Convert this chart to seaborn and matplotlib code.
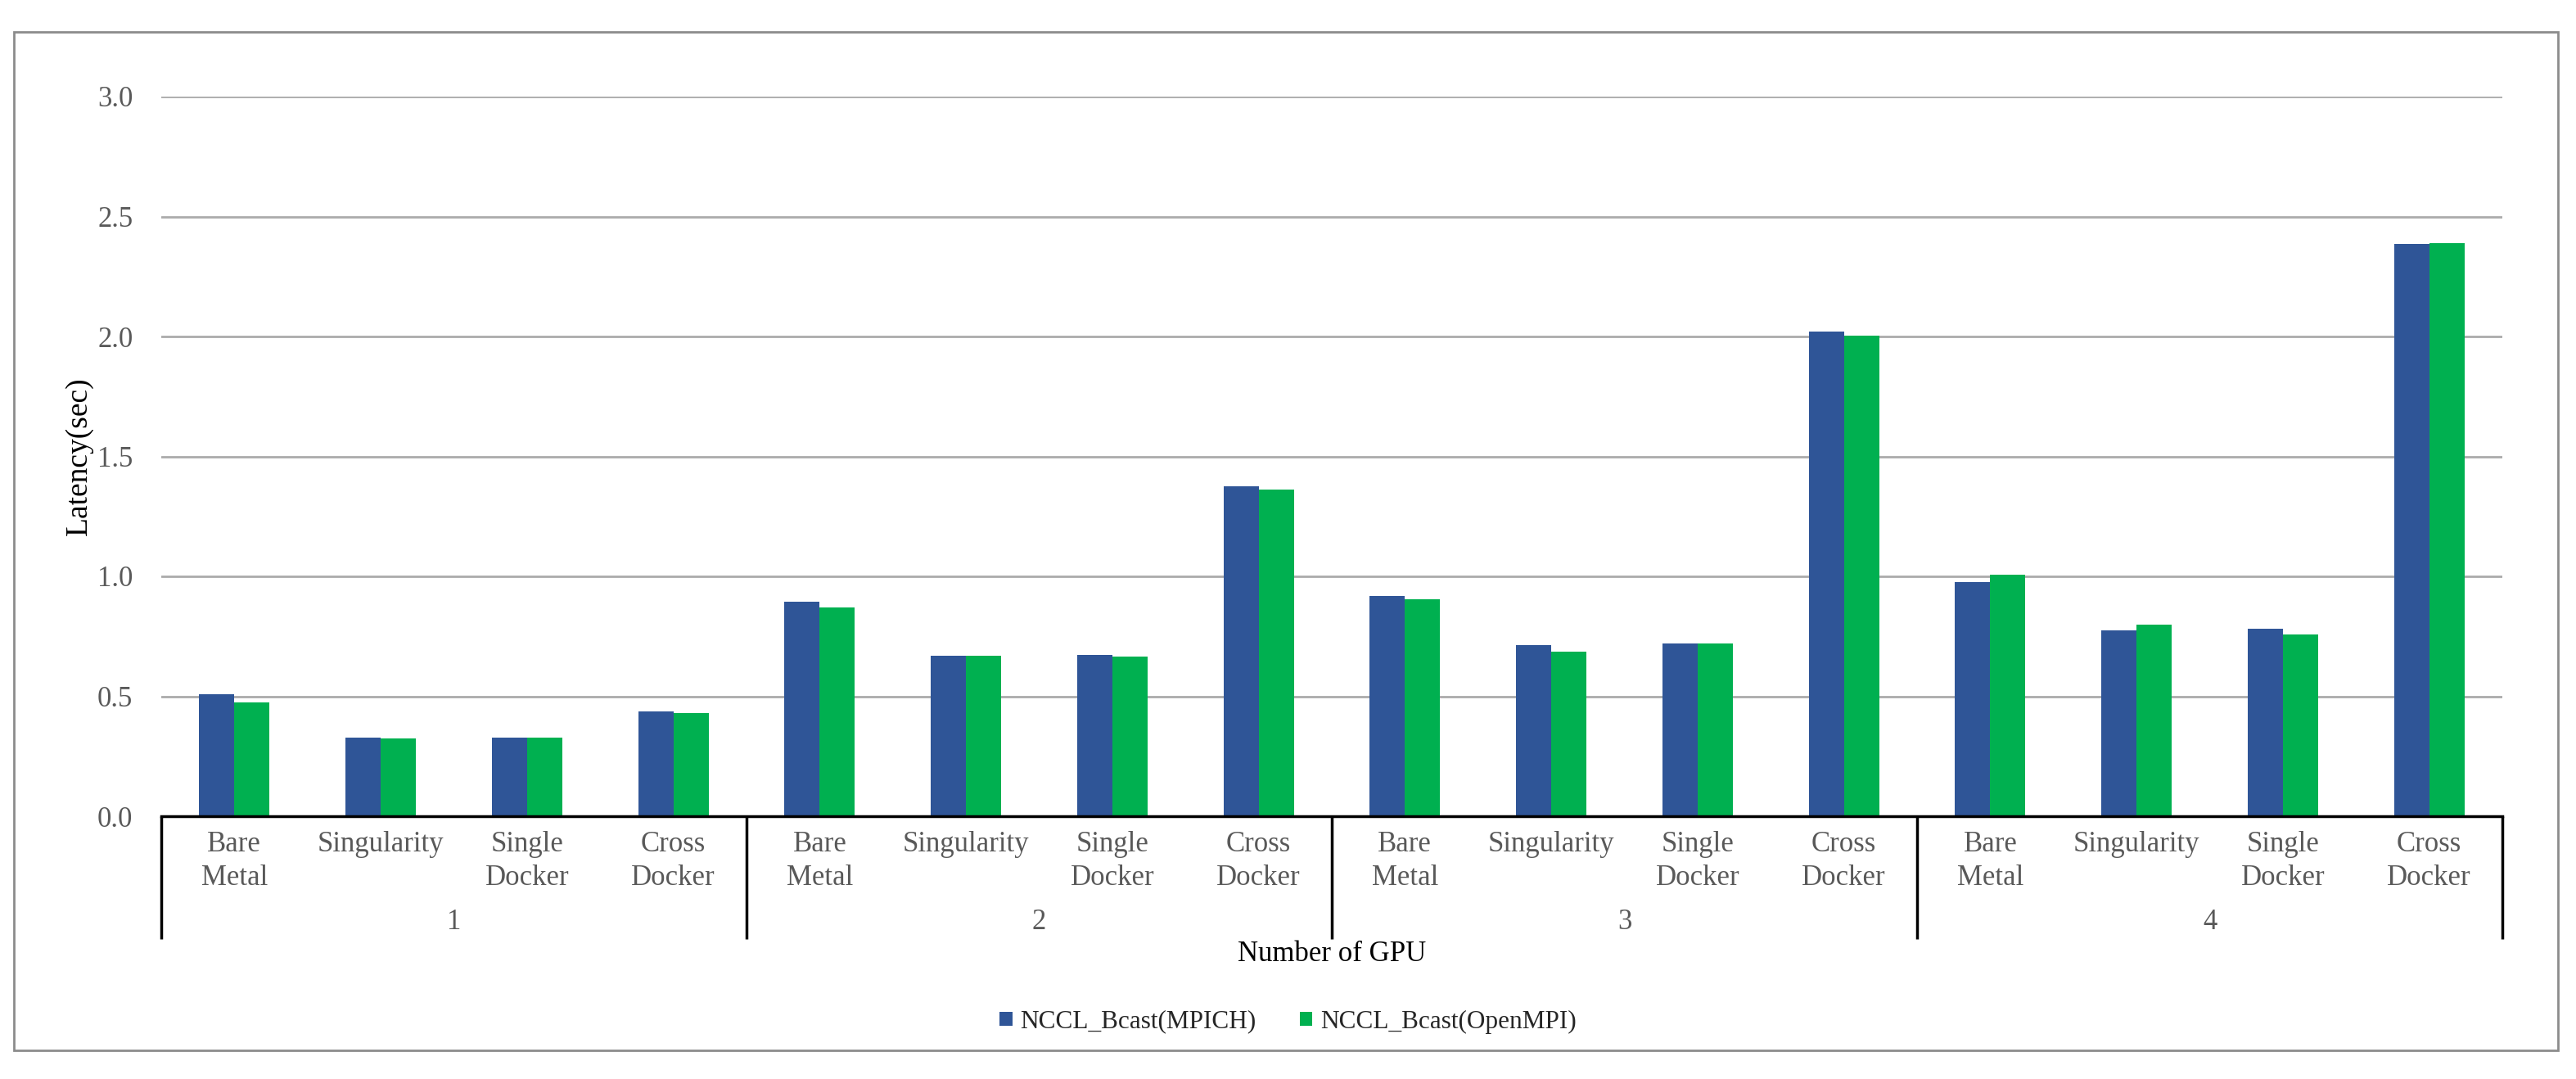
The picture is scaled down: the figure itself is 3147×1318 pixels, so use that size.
import matplotlib
matplotlib.use("Agg")
import matplotlib.pyplot as plt
from matplotlib.patches import Patch, Rectangle
import matplotlib.transforms as mtransforms
import seaborn as sns
import pandas as pd

# ---------------- data ----------------
gpu_groups = ["1", "2", "3", "4"]
platforms = ["Bare Metal", "Singularity", "Single Docker", "Cross Docker"]
platform_labels = ["Bare\nMetal", "Singularity", "Single\nDocker", "Cross\nDocker"]
series_names = ["NCCL_Bcast(MPICH)", "NCCL_Bcast(OpenMPI)"]
mpich = [0.51, 0.329, 0.329, 0.438,
         0.893, 0.668, 0.674, 1.375,
         0.918, 0.712, 0.719, 2.02,
         0.975, 0.774, 0.78, 2.385]
openmpi = [0.475, 0.323, 0.326, 0.43,
           0.869, 0.668, 0.664, 1.361,
           0.905, 0.686, 0.719, 2.003,
           1.006, 0.797, 0.758, 2.39]
yticks = [0.0, 0.5, 1.0, 1.5, 2.0, 2.5, 3.0]

# ---------------- table ----------------
rows = []
keys = []
for gi, g in enumerate(gpu_groups):
    for pi, p in enumerate(platforms):
        k = f"{g}|{p}"
        keys.append(k)
        idx = gi * len(platforms) + pi
        rows.append({"key": k, "series": series_names[0], "latency": mpich[idx]})
        rows.append({"key": k, "series": series_names[1], "latency": openmpi[idx]})
df = pd.DataFrame(rows)

BLUE = "#2F5597"
GREEN = "#00B050"
GRID = "#ABABAB"
TXT = "#595959"

sns.set_theme(style="white")
plt.rcParams["font.family"] = ["Liberation Serif", "DejaVu Serif"]

W, H = 3147, 1318
fig = plt.figure(figsize=(W / 100, H / 100), dpi=100)
left, right, top, bottom = 197, 3057, 118, 997
ax = fig.add_axes([left / W, 1 - bottom / H, (right - left) / W, (bottom - top) / H])

sns.barplot(data=df, x="key", y="latency", hue="series", order=keys,
            hue_order=series_names, palette=[BLUE, GREEN], width=0.48,
            gap=0, saturation=1, errorbar=None, legend=False, ax=ax,
            linewidth=0)

ax.set_xlim(-0.5, len(keys) - 0.5)
ax.set_ylim(0, 3.0)
ax.set_yticks(yticks)
ax.set_yticklabels([f"{v:.1f}" for v in yticks], fontsize=25, color=TXT)
ax.yaxis.grid(True, color=GRID, linewidth=2)
ax.set_axisbelow(True)
ax.tick_params(axis="y", length=0, pad=25)

ax.set_xticks(range(len(keys)))
ax.set_xticklabels(platform_labels * len(gpu_groups), fontsize=25, color=TXT,
                   linespacing=1.3)
ax.tick_params(axis="x", length=0, pad=13)

for s in ["left", "right", "top"]:
    ax.spines[s].set_visible(False)
ax.spines["bottom"].set_color("black")
ax.spines["bottom"].set_linewidth(2.5)

# multi-level axis separators
trans = mtransforms.blended_transform_factory(ax.transData, ax.transAxes)
n = len(platforms)
for b in range(len(gpu_groups) + 1):
    xb = b * n - 0.5
    ax.plot([xb, xb], [0, -0.1706], transform=trans, clip_on=False,
            color="black", lw=2.5, solid_capstyle="butt")
for gi, g in enumerate(gpu_groups):
    ax.text(gi * n + (n - 1) / 2, -0.147, g, transform=trans, ha="center",
            va="center", fontsize=25, color=TXT)

ax.set_xlabel("Number of GPU", fontsize=25, color="black")
ax.xaxis.label.set_va("center")
ax.xaxis.set_label_coords(0.5, -0.192)

ax.set_ylabel("Latency(sec)", fontsize=27, color="black")
ax.yaxis.label.set_va("center")
ax.yaxis.set_label_coords((97 - left) / (right - left), 0.5)

handles = [Patch(facecolor=BLUE, edgecolor="none", label=series_names[0]),
           Patch(facecolor=GREEN, edgecolor="none", label=series_names[1])]
fig.legend(handles=handles, loc="center", bbox_to_anchor=(0.5, 1 - 1248 / H),
           ncol=2, frameon=False, fontsize=22.5, handlelength=0.5,
           handleheight=0.5, handletextpad=0.3, columnspacing=1.7)

fig.add_artist(Rectangle((17 / W, 1 - 1283 / H), (3125 - 17) / W, (1283 - 39) / H,
                         transform=fig.transFigure, fill=False,
                         edgecolor="#8C8C8C", lw=2))

fig.savefig("out.png", dpi=100)
